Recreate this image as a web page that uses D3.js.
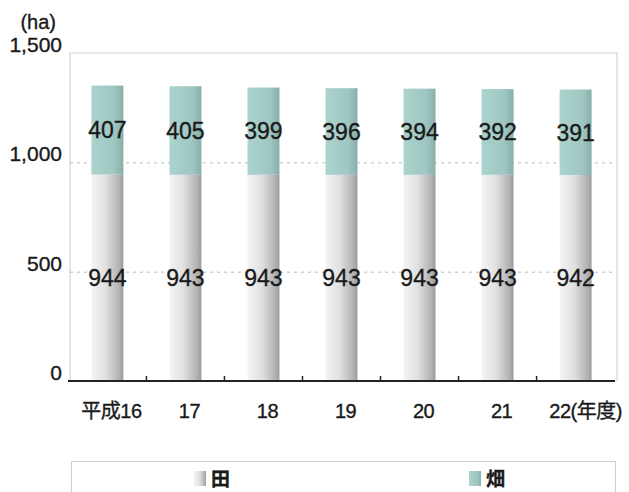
<!DOCTYPE html>
<html>
<head>
<meta charset="utf-8">
<script src="https://cdn.jsdelivr.net/npm/d3@7"></script>
<style>
  body { margin: 0; background: #fff; }
  text { font-family: "Liberation Sans", "Noto Sans CJK JP", sans-serif; fill: #1a1a1a; stroke: #1a1a1a; stroke-width: 0.35px; }
</style>
</head>
<body>
<div id="chart"></div>
<script>
// data
var years = ["平成16", "17", "18", "19", "20", "21", "22(年度)"];
var paddy = [944, 943, 943, 943, 943, 943, 942];   // 田
var upland = [407, 405, 399, 396, 394, 392, 391];  // 畑
var yTicks = [0, 500, 1000, 1500];
var seriesNames = ["田", "畑"];

var width = 629, height = 492;
var plotLeft = 68, plotRight = 615, plotTop = 53, plotBottom = 381;

var svg = d3.select("#chart").append("svg")
    .attr("width", width)
    .attr("height", height);

var defs = svg.append("defs");
var g1 = defs.append("linearGradient").attr("id", "gPaddy");
g1.append("stop").attr("offset", "0%").attr("stop-color", "#f4f4f4");
g1.append("stop").attr("offset", "45%").attr("stop-color", "#e0e0e0");
g1.append("stop").attr("offset", "85%").attr("stop-color", "#b4b4b4");
g1.append("stop").attr("offset", "100%").attr("stop-color", "#9c9c9c");
var g2 = defs.append("linearGradient").attr("id", "gUpland");
g2.append("stop").attr("offset", "0%").attr("stop-color", "#acd3cd");
g2.append("stop").attr("offset", "70%").attr("stop-color", "#9fc7c1");
g2.append("stop").attr("offset", "100%").attr("stop-color", "#88aea9");

var x = d3.scaleBand()
    .domain(years)
    .range([plotLeft, plotRight])
    .paddingInner(0.59)
    .paddingOuter(0.3);

var y = d3.scaleLinear()
    .domain([0, 1500])
    .range([plotBottom, plotTop]);

// plot frame
svg.append("path")
    .attr("d", "M" + (plotLeft + 2) + "," + plotBottom + "V" + plotTop + "H" + (plotRight + 2) + "V" + plotBottom)
    .attr("fill", "none")
    .attr("stroke", "#d4d4d4")
    .attr("stroke-width", 1.2);

// dashed grid lines
svg.append("g").selectAll("line")
    .data(yTicks.filter(function (d) { return d > 0 && d < 1500; }))
    .enter().append("line")
    .attr("x1", plotLeft + 2)
    .attr("x2", plotRight)
    .attr("y1", function (d) { return y(d) + 0.5; })
    .attr("y2", function (d) { return y(d) + 0.5; })
    .attr("stroke", "#b8b8b8")
    .attr("stroke-dasharray", "3,4");

// y labels
svg.append("g").selectAll("text")
    .data(yTicks)
    .enter().append("text")
    .attr("x", 62)
    .attr("y", function (d) { return y(d) - 1; })
    .attr("text-anchor", "end")
    .style("font-size", "21px")
    .text(function (d) { return d3.format(",")(d); });

svg.append("text")
    .attr("x", 56)
    .attr("y", 29)
    .attr("text-anchor", "end")
    .style("font-size", "20px")
    .text("(ha)");

// stacked bars
var rows = years.map(function (yr, i) { return { year: yr, paddy: paddy[i], upland: upland[i] }; });
var stack = d3.stack().keys(["paddy", "upland"])(rows);
var fills = { paddy: "url(#gPaddy)", upland: "url(#gUpland)" };

var layers = svg.append("g").selectAll("g")
    .data(stack)
    .enter().append("g")
    .attr("fill", function (d) { return fills[d.key]; });

layers.selectAll("rect")
    .data(function (d) { return d; })
    .enter().append("rect")
    .attr("x", function (d) { return x(d.data.year); })
    .attr("width", x.bandwidth())
    .attr("y", function (d) { return y(d[1]); })
    .attr("height", function (d) { return y(d[0]) - y(d[1]); });

layers.selectAll("text")
    .data(function (d) { return d; })
    .enter().append("text")
    .attr("x", function (d) { return x(d.data.year) + x.bandwidth() / 2; })
    .attr("y", function (d) { return (y(d[0]) + y(d[1])) / 2; })
    .attr("dy", "0.36em")
    .attr("text-anchor", "middle")
    .style("font-size", "23px")
    .text(function (d) { return d[1] - d[0]; });

// x axis line and ticks between categories
svg.append("line")
    .attr("x1", plotLeft)
    .attr("x2", plotRight)
    .attr("y1", plotBottom)
    .attr("y2", plotBottom)
    .attr("stroke", "#222")
    .attr("stroke-width", 2);

svg.append("g").selectAll("line")
    .data(years.slice(0, -1))
    .enter().append("line")
    .attr("x1", function (d) { return x(d) + x.bandwidth() + x.step() * x.paddingInner() / 2; })
    .attr("x2", function (d) { return x(d) + x.bandwidth() + x.step() * x.paddingInner() / 2; })
    .attr("y1", plotBottom)
    .attr("y2", plotBottom - 5)
    .attr("stroke", "#222")
    .attr("stroke-width", 1.5);

svg.append("g").selectAll("text")
    .data(years)
    .enter().append("text")
    .attr("x", function (d, i) { return x(d) + x.bandwidth() / 2 + (i === years.length - 1 ? 10 : 4); })
    .attr("y", 418)
    .attr("text-anchor", "middle")
    .style("font-size", "20px")
    .style("letter-spacing", "-0.5px")
    .text(function (d) { return d; });

// legend
svg.append("rect")
    .attr("x", 71.5)
    .attr("y", 461.5)
    .attr("width", 544)
    .attr("height", 40)
    .attr("fill", "none")
    .attr("stroke", "#cfcfcf");

var legend = svg.append("g").selectAll("g")
    .data(seriesNames)
    .enter().append("g")
    .attr("transform", function (d, i) { return "translate(" + (i === 0 ? 194 : 469) + ",471)"; });

legend.append("rect")
    .attr("width", 12)
    .attr("height", 15)
    .attr("fill", function (d, i) { return i === 0 ? "url(#gPaddy)" : "url(#gUpland)"; });

legend.append("text")
    .attr("x", 17)
    .attr("y", 15)
    .style("font-size", "19px")
    .style("font-family", "'Noto Sans CJK JP', sans-serif")
    .style("font-weight", "bold")
    .text(function (d) { return d; });
</script>
</body>
</html>
